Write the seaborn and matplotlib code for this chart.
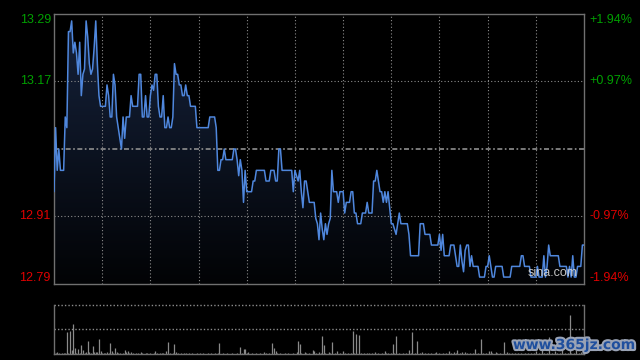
import numpy as np
import pandas as pd
import matplotlib
matplotlib.use("Agg")
import matplotlib.pyplot as plt
import matplotlib.transforms as mtrans
from matplotlib import patheffects as pe
from matplotlib.colors import LinearSegmentedColormap
import seaborn as sns

# ---------------- data ----------------
prev_close = 13.04
pct_levels = [1.94, 0.97, -0.97, -1.94]
left_labels = ["13.29", "13.17", "12.91", "12.79"]
right_labels = ["+1.94%", "+0.97%", "-0.97%", "-1.94%"]

prices = [
    12.96, 13.08, 13.00, 13.04, 13.00, 13.00, 13.00, 13.10, 13.08, 13.26, 13.26, 13.28, 13.22, 13.24, 13.22, 13.18, 13.24, 13.14, 13.18, 13.19,
    13.28, 13.25, 13.20, 13.18, 13.19, 13.23, 13.28, 13.20, 13.14, 13.12, 13.12, 13.12, 13.12, 13.16, 13.14, 13.10, 13.10, 13.18, 13.16, 13.10,
    13.08, 13.06, 13.04, 13.10, 13.06, 13.10, 13.10, 13.10, 13.14, 13.12, 13.12, 13.12, 13.12, 13.18, 13.18, 13.10, 13.10, 13.14, 13.10, 13.10,
    13.14, 13.16, 13.15, 13.18, 13.18, 13.12, 13.10, 13.10, 13.14, 13.08, 13.08, 13.10, 13.08, 13.08, 13.10, 13.20, 13.18, 13.18, 13.16, 13.16,
    13.14, 13.14, 13.16, 13.14, 13.14, 13.12, 13.12, 13.12, 13.12, 13.08, 13.08, 13.08, 13.08, 13.08, 13.08, 13.08, 13.08, 13.10, 13.10, 13.10,
    13.10, 13.08, 13.00, 13.00, 13.02, 13.02, 13.04, 13.02, 13.02, 13.02, 13.02, 13.02, 13.04, 13.04, 13.02, 12.99, 13.02, 13.00, 12.94, 13.00,
    12.96, 12.96, 12.96, 12.96, 12.98, 12.98, 13.00, 13.00, 13.00, 13.00, 13.00, 13.00, 12.98, 12.98, 12.98, 13.00, 13.00, 13.00, 12.98, 12.98,
    13.04, 13.04, 13.00, 13.00, 13.00, 13.00, 13.00, 13.00, 13.00, 12.96, 13.00, 12.99, 12.98, 13.00, 12.96, 12.93, 12.98, 12.98, 12.96, 12.94,
    12.94, 12.94, 12.94, 12.91, 12.90, 12.87, 12.92, 12.89, 12.87, 12.90, 12.88, 12.90, 12.91, 13.00, 12.96, 12.96, 12.96, 12.94, 12.96, 12.96,
    12.96, 12.92, 12.94, 12.94, 12.94, 12.96, 12.96, 12.92, 12.92, 12.90, 12.90, 12.90, 12.92, 12.92, 12.92, 12.94, 12.92, 12.92, 12.92, 12.98,
    12.98, 13.00, 12.98, 12.96, 12.96, 12.94, 12.96, 12.94, 12.96, 12.93, 12.90, 12.90, 12.89, 12.88, 12.90, 12.92, 12.90, 12.90, 12.90, 12.90,
    12.90, 12.88, 12.84, 12.84, 12.84, 12.84, 12.84, 12.84, 12.90, 12.90, 12.90, 12.88, 12.88, 12.88, 12.88, 12.86, 12.86, 12.86, 12.86, 12.86,
    12.88, 12.85, 12.88, 12.84, 12.84, 12.84, 12.84, 12.86, 12.86, 12.86, 12.84, 12.82, 12.82, 12.86, 12.83, 12.81, 12.85, 12.86, 12.86, 12.82,
    12.84, 12.82, 12.82, 12.82, 12.82, 12.80, 12.80, 12.80, 12.80, 12.82, 12.82, 12.84, 12.82, 12.80, 12.80, 12.82, 12.82, 12.82, 12.82, 12.82,
    12.80, 12.80, 12.80, 12.80, 12.80, 12.82, 12.82, 12.82, 12.82, 12.82, 12.82, 12.84, 12.84, 12.82, 12.82, 12.82, 12.82, 12.80, 12.80, 12.80,
    12.80, 12.82, 12.80, 12.80, 12.80, 12.84, 12.80, 12.82, 12.86, 12.84, 12.84, 12.84, 12.84, 12.84, 12.84, 12.82, 12.82, 12.82, 12.82, 12.82,
    12.80, 12.82, 12.80, 12.84, 12.80, 12.80, 12.82, 12.82, 12.82, 12.86, 12.86,
]

volumes = [
    5, 2, 4, 2, 1, 2, 3, 2, 44, 2, 46, 9, 61, 13, 2, 10, 2, 19, 9, 2,
    4, 27, 5, 2, 17, 5, 4, 5, 31, 6, 2, 3, 2, 4, 2, 23, 6, 2, 13, 4,
    2, 3, 1, 2, 9, 5, 6, 2, 4, 2, 1, 2, 3, 1, 4, 2, 1, 2, 2, 1,
    2, 1, 3, 6, 2, 1, 3, 3, 2, 1, 7, 25, 2, 1, 2, 21, 4, 2, 1, 2,
    1, 2, 2, 1, 3, 1, 2, 1, 1, 2, 1, 3, 1, 2, 1, 1, 2, 1, 2, 1,
    2, 1, 2, 23, 1, 2, 1, 1, 2, 1, 1, 2, 1, 1, 2, 1, 15, 2, 10, 11,
    2, 5, 1, 2, 1, 1, 2, 1, 2, 1, 1, 5, 2, 1, 2, 1, 23, 13, 6, 2,
    1, 2, 1, 1, 2, 1, 2, 1, 1, 2, 1, 4, 27, 21, 2, 1, 5, 2, 1, 2,
    1, 9, 7, 2, 1, 5, 2, 37, 19, 2, 1, 5, 2, 25, 1, 2, 6, 1, 2, 1,
    6, 2, 1, 2, 1, 2, 46, 2, 41, 1, 39, 2, 1, 2, 1, 2, 3, 1, 2, 1,
    4, 1, 2, 1, 2, 1, 6, 2, 3, 1, 2, 21, 2, 37, 1, 2, 1, 2, 1, 2,
    1, 9, 2, 45, 1, 2, 27, 1, 2, 5, 1, 2, 1, 2, 1, 2, 1, 2, 5, 1,
    2, 1, 2, 1, 2, 1, 6, 2, 1, 5, 2, 9, 1, 2, 5, 1, 5, 2, 1, 2,
    1, 2, 10, 1, 2, 1, 30, 2, 1, 2, 1, 6, 7, 2, 1, 5, 2, 1, 2, 1,
    25, 1, 5, 2, 1, 2, 1, 2, 1, 2, 1, 2, 1, 2, 1, 2, 1, 2, 1, 2,
    6, 1, 2, 1, 8, 2, 1, 2, 35, 1, 2, 1, 6, 2, 1, 2, 10, 1, 2, 1,
    2, 79, 2, 1, 2, 9, 1, 2, 4, 2, 3,
]

# ---------------- style ----------------
sns.set_style("dark", {"axes.facecolor": "black", "figure.facecolor": "black"})
plt.rcParams["font.family"] = ["Liberation Sans", "DejaVu Sans"]

W, H = 640, 360
fig = plt.figure(figsize=(6.4, 3.6), dpi=100, facecolor="black")
ax = fig.add_axes([54 / W, 76 / H, 530 / W, 270 / H])
axv = fig.add_axes([54 / W, 6 / H, 530 / W, 49.3 / H])

n_minutes = 330
df = pd.DataFrame({"t": np.arange(len(prices)), "price": prices})
ymax = prev_close * (1 + pct_levels[0] / 100)
ymin = prev_close * (1 + pct_levels[-1] / 100)

for a in (ax, axv):
    a.set_facecolor("black")
    a.set_xticks([])
    a.set_yticks([])
    a.grid(False)

ax.set_xlim(0, n_minutes)
ax.set_ylim(ymin, ymax)

# gradient area under the price line
poly = ax.fill_between(df["t"], df["price"], ymin, facecolor="none", edgecolor="none")
grad = np.linspace(1, 0, 256).reshape(-1, 1)
cmap = LinearSegmentedColormap.from_list("area", ["#020305", "#16233d"])
im = ax.imshow(grad, cmap=cmap, aspect="auto", extent=[0, n_minutes, ymin, ymax],
               origin="upper", zorder=1, interpolation="bilinear")
im.set_clip_path(poly.get_paths()[0], transform=ax.transData)

# grid
grid_kw = dict(color="#8c8c8c", lw=0.8, ls=(0, (1, 2)), zorder=2)
for p in pct_levels[1:-1]:
    ax.axhline(prev_close * (1 + p / 100), **grid_kw)
for x in range(30, n_minutes, 30):
    ax.axvline(x, **grid_kw)
ax.axhline(prev_close, color="#8f8f8f", lw=1.2, ls=(0, (3, 1.5, 1, 1.5)), zorder=2)

# price line
sns.lineplot(data=df, x="t", y="price", ax=ax, color="#4f87dd", linewidth=1.1,
             legend=False, zorder=3)
ax.set_xlabel("")
ax.set_ylabel("")
ax.set_xlim(0, n_minutes)
ax.set_ylim(ymin, ymax)

for s in ax.spines.values():
    s.set_color("#707070")
    s.set_linewidth(1.0)
    s.set_visible(True)

# axis labels
tr = mtrans.blended_transform_factory(ax.transAxes, ax.transData)
vas = ["top", "center", "center", "bottom"]
for p, ll, rl, va in zip(pct_levels, left_labels, right_labels, vas):
    yv = prev_close * (1 + p / 100)
    col = "#00a000" if p > 0 else "#e00000"
    ax.text(-0.006, yv, ll, transform=tr, ha="right", va=va, color=col, fontsize=9)
    ax.text(1.011, yv, rl, transform=tr, ha="left", va=va, color=col, fontsize=9)

ax.text(0.94, 0.018, "sina.com", transform=ax.transAxes, ha="center", va="bottom",
        color="#d8d8d8", fontsize=9, alpha=0.9, zorder=5)

# volume panel
axv.set_xlim(0, n_minutes)
axv.set_ylim(0, 100)
axv.vlines(df["t"], 0, volumes, color="#8a8a8a", lw=0.9)
axv.axhline(100, color="#8c8c8c", lw=1.0, ls=(0, (1, 1.5)), clip_on=False)
axv.axhline(50, color="#8c8c8c", lw=1.0, ls=(0, (1, 1.5)))
for k, s in axv.spines.items():
    s.set_color("#707070")
    s.set_linewidth(1.0)
    s.set_visible(k != "top")

# site watermark
fig.text(574 / W, 1 - 345 / H, "www.365jz.com", ha="center", va="center",
         color="#1f4f9e", fontsize=10, fontweight="bold", family="DejaVu Sans",
         path_effects=[pe.withStroke(linewidth=3, foreground="#9aa3b5")])

fig.savefig("out.png", dpi=100, facecolor="black")
